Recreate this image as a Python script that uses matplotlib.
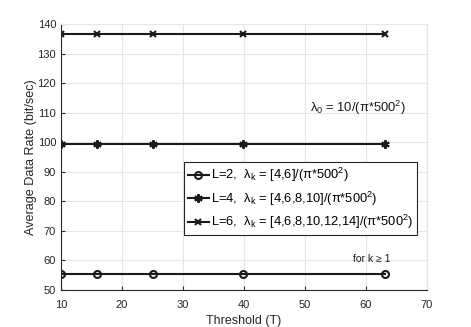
import numpy as np
import matplotlib.pyplot as plt

plt.rcParams['font.family'] = ['Liberation Sans', 'DejaVu Sans']
plt.rcParams['mathtext.fontset'] = 'custom'
plt.rcParams['mathtext.rm'] = 'Liberation Sans'
plt.rcParams['mathtext.it'] = 'Liberation Sans'

# data
threshold = [10, 15.85, 25.12, 39.81, 63.1]
rate_L2 = [55.3, 55.3, 55.3, 55.3, 55.3]
rate_L4 = [99.5, 99.5, 99.5, 99.5, 99.5]
rate_L6 = [136.6, 136.6, 136.6, 136.6, 136.6]

labels = [r'L=2,  $\lambda_{\rm k}$ = [4,6]/($\pi$*500$^2$)',
          r'L=4,  $\lambda_{\rm k}$ = [4,6,8,10]/($\pi$*500$^2$)',
          r'L=6,  $\lambda_{\rm k}$ = [4,6,8,10,12,14]/($\pi$*500$^2$)']

asterisk = (6, 2, 0)
col = '#1a1a1a'

fig = plt.figure(figsize=(4.71, 3.27), dpi=100)
ax = fig.add_axes([0.1295, 0.1131, 0.777, 0.8135])

ax.plot(threshold, rate_L2, '-', color=col, lw=1.5, marker='o', ms=5,
        mfc='none', mew=1.5, label=labels[0])
ax.plot(threshold, rate_L4, '-', color=col, lw=1.5, marker=asterisk, ms=6,
        mew=1.5, label=labels[1])
ax.plot(threshold, rate_L6, '-', color=col, lw=1.5, marker='x', ms=5,
        mew=1.5, label=labels[2])

ax.set_xlim(10, 70)
ax.set_ylim(50, 140)
ax.set_xticks(np.arange(10, 71, 10))
ax.set_yticks(np.arange(50, 141, 10))
ax.grid(True, color='#e6e6e6', lw=0.8)
ax.set_axisbelow(True)
for s in ['top', 'right']:
    ax.spines[s].set_color('#e6e6e6')
for s in ['left', 'bottom']:
    ax.spines[s].set_color('#262626')
    ax.spines[s].set_linewidth(0.8)
ax.tick_params(direction='in', length=3, labelsize=8, colors='#262626',
               top=False, right=False)
ax.tick_params(axis='x', pad=7)

ax.set_xlabel('Threshold (T)', fontsize=9, color='#262626', labelpad=4)
ax.set_ylabel('Average Data Rate (bit/sec)', fontsize=9.1, color='#262626', labelpad=0.5)

ax.text(50.8, 111.6, r'$\lambda_0$ = 10/($\pi$*500$^2$)', fontsize=9.4,
        color='#1a1a1a', va='center', ha='left')
ax.text(57.8, 60.5, 'for k \u2265 1', fontsize=7.5, color='#1a1a1a',
        va='center', ha='left')

leg = ax.legend(loc='upper left', bbox_to_anchor=(0.336, 0.481), fontsize=9.3,
                handlelength=1.6, handletextpad=0.2, labelspacing=0.42,
                borderpad=0.3, borderaxespad=0, fancybox=False, framealpha=1)
leg.get_frame().set_edgecolor('#262626')
leg.get_frame().set_linewidth(0.8)

fig.savefig('out.png', dpi=100)
